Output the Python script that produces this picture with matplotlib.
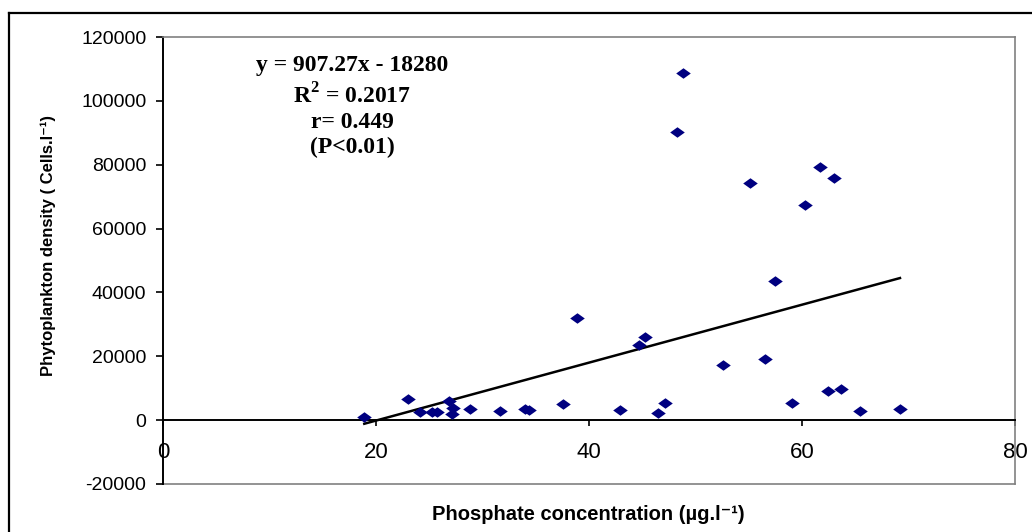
import matplotlib
matplotlib.use("Agg")
import matplotlib.pyplot as plt
from matplotlib.lines import Line2D
import numpy as np

# ---- data ----
phosphate = [18.9, 23.0, 24.1, 25.3, 25.7, 26.9, 27.2, 27.1, 28.8, 31.6,
             34.0, 34.4, 37.6, 38.9, 42.9, 44.7, 45.3, 46.5, 47.1, 48.3,
             48.8, 52.6, 55.1, 56.5, 57.5, 59.1, 60.3, 61.7, 62.4, 63.0,
             63.7, 65.4, 69.2]
density = [1000, 6500, 2500, 2600, 2700, 6100, 3700, 1800, 3400, 2950,
           3400, 3050, 4950, 31900, 3050, 23500, 26100, 2100, 5250, 90100,
           108700, 17250, 74400, 19100, 43600, 5250, 67400, 79400, 9200, 75900,
           9600, 2950, 3400]
slope = 907.27
intercept = -18280
eq_lines = ["y = 907.27x - 18280", r"R$^{\mathbf{2}}$ = 0.2017", "r= 0.449", "(P<0.01)"]
x_ticks = [0, 20, 40, 60, 80]
y_ticks = [-20000, 0, 20000, 40000, 60000, 80000, 100000, 120000]

plt.rcParams['mathtext.fontset'] = 'custom'
plt.rcParams['mathtext.rm'] = 'Liberation Serif:bold'
plt.rcParams['mathtext.bf'] = 'Liberation Serif:bold'

W, H = 1032, 532
fig = plt.figure(figsize=(W / 100, H / 100), dpi=100)
fig.patch.set_facecolor('white')

# outer frame lines (top and left)
fig.add_artist(Line2D([9 / W, 1.0], [1 - 13 / H, 1 - 13 / H], color='black', lw=1.6,
                      transform=fig.transFigure))
fig.add_artist(Line2D([9 / W, 9 / W], [0, 1 - 13 / H], color='black', lw=1.6,
                      transform=fig.transFigure))

L, R, T, B = 163, 1015, 37, 484
ax = fig.add_axes([L / W, 1 - B / H, (R - L) / W, (B - T) / H])
ax.set_xlim(0, 80)
ax.set_ylim(-20000, 120000)

mk = [(-1, 0), (0, 0.72), (1, 0), (0, -0.72), (-1, 0)]
ax.plot(phosphate, density, linestyle='none', marker=mk, markersize=10.5,
        color='#000080', markeredgewidth=0, zorder=3)

xs = np.array([min(phosphate), max(phosphate)])
ax.plot(xs, slope * xs + intercept, color='black', lw=1.8, zorder=2)

for s in ['top', 'right']:
    ax.spines[s].set_color('#808080')
    ax.spines[s].set_linewidth(1.2)
ax.spines['left'].set_color('black')
ax.spines['left'].set_linewidth(1.4)
ax.spines['bottom'].set_position(('data', 0))
ax.spines['bottom'].set_color('black')
ax.spines['bottom'].set_linewidth(1.4)
ax.axhline(-20000, color='#808080', lw=1.2, clip_on=False, zorder=1)

ax.set_xticks(x_ticks)
ax.set_yticks(y_ticks)
ax.set_yticklabels([str(v) for v in y_ticks])
ax.tick_params(axis='y', direction='out', length=5, width=1.2, pad=7,
               labelsize=14, labelfontfamily='Liberation Sans')
ax.tick_params(axis='x', direction='out', length=4.5, width=1.2, pad=11,
               labelsize=16, labelfontfamily='Liberation Sans')

sans = ['Liberation Sans', 'DejaVu Sans']
fig.text(48 / W, 1 - 246 / H, 'Phytoplankton density ( Cells.l\u207b\u00b9)',
         rotation=90, ha='center', va='center', fontsize=12, fontweight='bold',
         family=sans)
fig.text(588 / W, 1 - 514 / H, 'Phosphate concentration (\u00b5g.l\u207b\u00b9)',
         ha='center', va='center', fontsize=14.5, fontweight='bold',
         family=sans)

ys = [66, 96, 122, 147]
for txt, yy in zip(eq_lines, ys):
    fig.text(352 / W, 1 - yy / H, txt, ha='center', va='center', fontsize=17,
             fontweight='bold', family='Liberation Serif')

fig.savefig('out.png', dpi=100)
